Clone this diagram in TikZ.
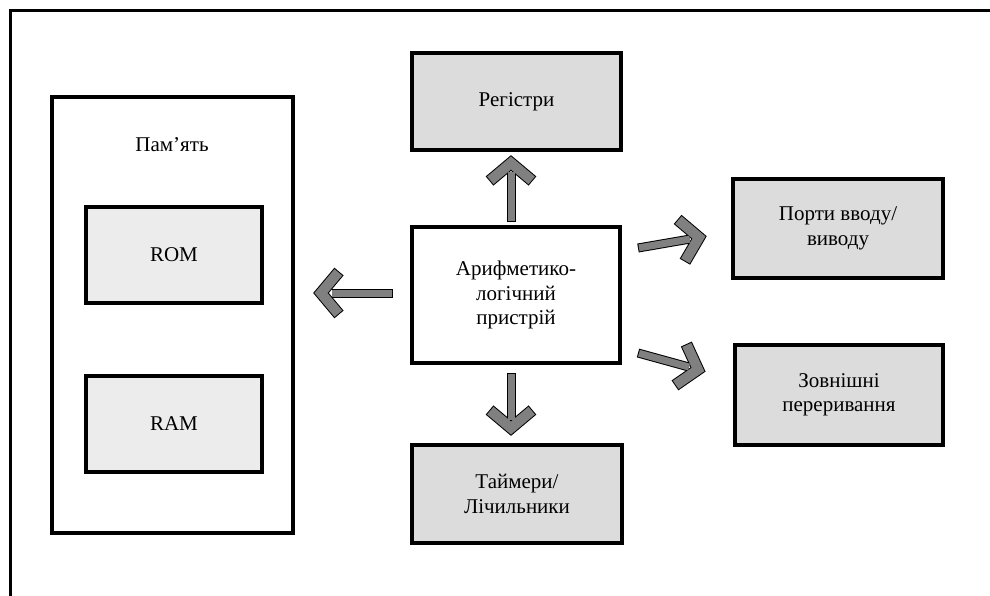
\documentclass[tikz,border=0pt]{standalone}
\usepackage{fontspec}
\setmainfont{Liberation Serif}
\usetikzlibrary{calc}
\definecolor{boxgray}{HTML}{DCDCDC}
\definecolor{lightbox}{HTML}{ECECEC}
\definecolor{arrgray}{HTML}{808080}
\tikzset{
  txt/.style={font=\fontsize{21}{24.5}\selectfont},
  blk/.style={draw=black, line width=3.2pt, inner sep=0pt, align=center, txt},
  graybox/.style={blk, fill=boxgray},
  lightbox/.style={blk, fill=lightbox},
  whitebox/.style={blk, fill=white},
  chev/.style={line join=miter, miter limit=10, line cap=butt},
}
\newcommand\fatarrow[2]{%
  \draw[line width=9pt, draw=black, line cap=butt] ($(#2)!0.15!(#1)$) -- (#1);
  \draw[line width=12pt, draw=black, chev]
      ($(#2)!28pt!50:(#1)$) -- (#2) -- ($(#2)!28pt!-50:(#1)$);
  \draw[line width=7pt, draw=arrgray, line cap=butt] ($(#2)!0.15!(#1)$) -- ($(#1)!1pt!(#2)$);
  \draw[line width=10pt, draw=arrgray, chev]
      ($(#2)!27pt!50:(#1)$) -- (#2) -- ($(#2)!27pt!-50:(#1)$);
}
\begin{document}
\begin{tikzpicture}[x=1pt,y=-1pt]
\useasboundingbox (0,0) rectangle (990,595);
% outer frame
\coordinate (fTL) at (10.5,10.5);
\coordinate (fTR) at (992,10.5);
\coordinate (fBL) at (10.5,597);
\draw[line width=3.6pt] (fTR) -- (fTL) -- (fBL);
% memory
\node[whitebox, minimum width=241pt, minimum height=436pt] (mem) at (172.5,315) {};
\node[txt] (memt) at (172,145) {Пам’ять};
\node[lightbox, minimum width=176pt, minimum height=96pt] (rom) at (174,255) {ROM};
\node[lightbox, minimum width=176pt, minimum height=96pt] (ram) at (174,424) {RAM};
% center
\node[whitebox, minimum width=208pt, minimum height=136pt] (alu) at (516,295) {Арифметико-\\логічний\\пристрій};
\node[graybox, minimum width=209pt, minimum height=97pt] (reg) at (516.5,101.5) {Регістри};
\node[graybox, minimum width=210pt, minimum height=98pt] (tim) at (517,494) {Таймери/\\Лічильники};
\node[graybox, minimum width=210pt, minimum height=99pt] (port) at (838,228.5) {Порти вводу/\\виводу};
\node[graybox, minimum width=208pt, minimum height=100pt] (ext) at (839,395) {Зовнішні\\переривання};
% arrow end points
\coordinate (aU0) at (511,222);  \coordinate (aU1) at (511,163);
\coordinate (aL0) at (393,293);  \coordinate (aL1) at (321,293);
\coordinate (aD0) at (511,373);  \coordinate (aD1) at (511,428);
\coordinate (aP0) at (638,248);  \coordinate (aP1) at (699,237.5);
\coordinate (aE0) at (638,353);  \coordinate (aE1) at (698,369.5);
\fatarrow{aU0}{aU1}
\fatarrow{aL0}{aL1}
\fatarrow{aD0}{aD1}
\fatarrow{aP0}{aP1}
\fatarrow{aE0}{aE1}
\end{tikzpicture}
\end{document}
